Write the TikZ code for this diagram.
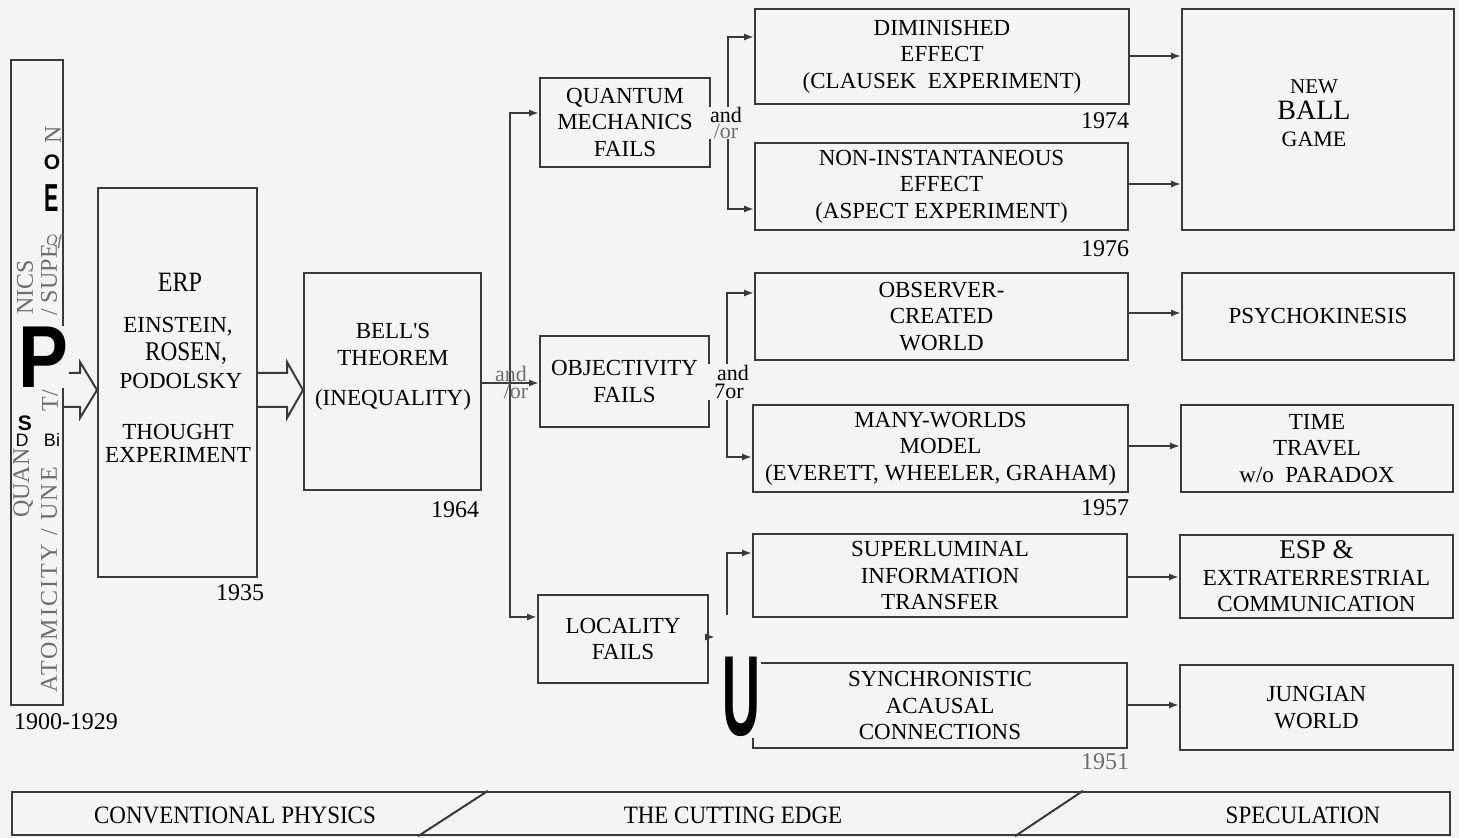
\documentclass[tikz,border=0pt]{standalone}
\usepackage{fontspec}
\setmainfont{Liberation Serif}[Ligatures=TeXOff]
\newfontfamily\ocrsans{Liberation Sans}
\newfontfamily\condserif[FakeStretch=0.86]{Liberation Serif}
\newfontfamily\barserif[FakeStretch=0.92]{Liberation Serif}
\newfontfamily\spacedserif[LetterSpace=9]{Liberation Serif}
\usetikzlibrary{arrows.meta,calc}
\definecolor{bgc}{HTML}{F4F4F4}
\definecolor{linec}{HTML}{3A3A3A}
\definecolor{graytext}{HTML}{6E6E6E}
\newcommand\bxfont{\fontsize{11.5}{13.3}\selectfont}
\begin{document}
\begin{tikzpicture}[x=0.5pt,y=-0.5pt,
  box/.style={draw=linec, line width=1pt, inner sep=0pt, align=center, font=\bxfont},
  conn/.style={draw=linec, line width=1pt},
  arr/.style={draw=linec, line width=1pt, -{Latex[length=5pt,width=3.6pt]}},
  hollow/.style={draw=linec, line width=1pt, line join=miter},
  txt/.style={inner sep=0pt, align=center, font=\bxfont},
  yr/.style={inner sep=0pt, font=\fontsize{12}{14}\selectfont},
  andor/.style={inner sep=0.5pt, align=center},
  rot/.style={rotate=90, inner sep=0pt, text=graytext, font=\fontsize{12}{14}\selectfont},
  ocr/.style={inner sep=0pt, text=black}
]
\fill[bgc] (0,0) rectangle (1459,838);
\useasboundingbox (0,0) rectangle (1459,838);

% ---------- boxes ----------
\node[box, minimum width=26pt, minimum height=322.5pt] (bar) at (37,382.5) {};
\node[box, minimum width=79.5pt, minimum height=194.5pt] (erp) at (177.5,382.5) {};
\node[box, minimum width=88.5pt, minimum height=108.5pt] (bell) at (392.5,381.5) {};
\node[box, minimum width=85pt, minimum height=44.5pt] (qm) at (625,122.5) {QUANTUM\\MECHANICS\\FAILS};
\node[box, minimum width=84.5pt, minimum height=45.5pt] (obj) at (624.5,381.5) {OBJECTIVITY\\FAILS};
\node[box, minimum width=85pt, minimum height=44pt] (loc) at (623,639) {LOCALITY\\FAILS};
\node[box, minimum width=187pt, minimum height=47.5pt] (dim) at (942,56.5) {DIMINISHED\\EFFECT\\(CLAUSEK\ \ EXPERIMENT)};
\node[box, minimum width=186.5pt, minimum height=43.5pt] (non) at (941.5,186.5) {NON-INSTANTANEOUS\\EFFECT\\(ASPECT EXPERIMENT)};
\node[box, minimum width=186.5pt, minimum height=43.5pt] (obs) at (941.5,316.5) {OBSERVER-\\CREATED\\WORLD};
\node[box, minimum width=187.5pt, minimum height=43.5pt] (many) at (940.5,448.5) {MANY-WORLDS\\MODEL\\(EVERETT, WHEELER, GRAHAM)};
\node[box, minimum width=187pt, minimum height=41.5pt] (sup) at (940,575.5) {SUPERLUMINAL\\INFORMATION\\TRANSFER};
\node[box, minimum width=187pt, minimum height=42.5pt] (syn) at (940,705.5) {SYNCHRONISTIC\\ACAUSAL\\CONNECTIONS};
\node[box, minimum width=136pt, minimum height=110.5pt] (nbg) at (1318,119.5) {};
\node[txt] (nbgt) at (1314,113) {{\fontsize{10.5}{13}\selectfont NEW}\\{\fontsize{14}{14}\selectfont BALL}\\{\fontsize{11}{13}\selectfont GAME}};
\node[box, minimum width=136pt, minimum height=43.5pt] (psy) at (1318,316.5) {PSYCHOKINESIS};
\node[box, minimum width=136pt, minimum height=43.5pt] (time) at (1317,448.5) {TIME\\TRAVEL\\w/o\ \ PARADOX};
\node[box, minimum width=136.5pt, minimum height=41.5pt] (esp) at (1316.5,576.5) {{\fontsize{13.5}{13}\selectfont ESP \&}\\EXTRATERRESTRIAL\\COMMUNICATION};
\node[box, minimum width=136.5pt, minimum height=42.5pt] (jung) at (1316.5,707.5) {JUNGIAN\\WORLD};

% ---------- ERP and Bell texts ----------
\node[txt, font=\fontsize{14}{14}\condserif] (erp1) at (180,282) {ERP};
\node[txt] (erp2) at (178,327) {EINSTEIN,};
\node[txt, font=\fontsize{13.5}{14}\condserif] (erp3) at (186,354) {ROSEN,};
\node[txt] (erp4) at (181,381) {PODOLSKY};
\node[txt] (erp5) at (178,432) {THOUGHT};
\node[txt] (erp6) at (178,455) {EXPERIMENT};
\node[txt] (bellt) at (393,367) {BELL'S\\THEOREM\\[6.7pt](INEQUALITY)};

% ---------- years ----------
\node[yr] (y1935) at (240,593) {1935};
\node[yr] (y1964) at (455,510) {1964};
\node[yr] (y1974) at (1105,121) {1974};
\node[yr] (y1976) at (1105,249) {1976};
\node[yr] (y1957) at (1105,508) {1957};
\node[yr, text=graytext] (y1951) at (1105,762) {1951};
\node[yr] (y1900) at (66,722) {1900-1929};

% ---------- hollow arrows ----------
\draw[hollow] (bar.east |- 0,373) -- (80,373) -- (80,362) -- (erp.west |- 0,390) -- (80,418) -- (80,407) -- (bar.east |- 0,407);
\draw[hollow] (erp.east |- 0,373) -- (287,373) -- (287,362) -- (bell.west |- 0,390) -- (287,418) -- (287,407) -- (erp.east |- 0,407);

% ---------- first split ----------
\coordinate (s1) at (510,383);
\draw[arr] (bell.east |- s1) -- (obj.west |- s1);
\draw[arr] (s1) |- (qm.west |- 0,113);
\draw[arr] (s1) |- (loc.west |- 0,617);
\node[andor, text=graytext, font=\fontsize{11}{8.5}\selectfont] (ao1) at (511,382) {and\\\hspace*{5pt}/or};

% ---------- QM split ----------
\coordinate (s2) at (728,120);
\draw[conn] (qm.east |- s2) -- (s2);
\draw[arr] (s2) |- (dim.west |- 0,37);
\draw[arr] (s2) |- (non.west |- 0,209);
\node[andor, fill=bgc, font=\fontsize{11}{7.6}\selectfont] (ao2) at (726,123) {and\\{\color{graytext}/or}};

% ---------- OBJ split ----------
\coordinate (s3) at (727,383);
\draw[conn] (obj.east |- s3) -- (s3);
\draw[arr] (s3) |- (obs.west |- 0,293);
\draw[arr] (s3) |- (many.west |- 0,457);
\node[andor, fill=bgc, font=\fontsize{11}{9.2}\selectfont] (ao3) at (729,382) {\hspace*{4pt}and\\7or};

% ---------- LOC split ----------
\coordinate (s4) at (727,615);
\coordinate (stub) at (715,637);
\draw[arr] (loc.east |- stub) -- (stub);
\draw[arr] (s4) |- (sup.west |- 0,553);

% ---------- to speculation ----------
\draw[arr] (dim.east |- 0,56) -- (nbg.west |- 0,56);
\draw[arr] (non.east |- 0,184) -- (nbg.west |- 0,184);
\draw[arr] (obs.east |- 0,313) -- (psy.west |- 0,313);
\draw[arr] (many.east |- 0,446) -- (time.west |- 0,446);
\draw[arr] (sup.east |- 0,577) -- (esp.west |- 0,577);
\draw[arr] (syn.east |- 0,705) -- (jung.west |- 0,705);

% ---------- left bar texts (as printed) ----------
\node[rot] (qan) at (23,483) {QUAN};
\node[rot] (nics) at (25,287) {NICS};
\node[rot, font=\fontsize{12}{14}\spacedserif] (atom) at (49,580) {ATOMICITY / UNE};
\node[rot] (tsl) at (50,401) {T/};
\node[rot] (supe) at (49,280) {/ SUPE};
\node[rot] (nn) at (53,135) {N};
\node[inner sep=0pt, text=graytext, font=\fontsize{8}{9}\itshape] (of) at (54,242) {Of};
\node[ocr, font=\fontsize{10.5}{11}\ocrsans\bfseries] (ocrO) at (52,162) {O};
\node[ocr, font=\ocrsans\bfseries] (ocrE) at (52,198) {\scalebox{0.55}[1]{\fontsize{19.5}{20}\selectfont E}};
\node[ocr, fill=bgc, inner sep=0.5pt, font=\ocrsans\bfseries] (ocrP) at (43,357) {\scalebox{0.85}[1]{\fontsize{44}{44}\selectfont P}};
\node[ocr, font=\fontsize{10.5}{11}\ocrsans\bfseries] (ocrS) at (25,423) {S};
\node[ocr, font=\fontsize{9}{10}\ocrsans] (ocrD) at (22,440) {D};
\node[ocr, font=\fontsize{9}{10}\ocrsans] (ocrB) at (52,440) {Bi};
\node[ocr, fill=bgc, inner sep=0.5pt, font=\ocrsans\bfseries] (ocrU) at (741,697) {\scalebox{0.46}[1]{\fontsize{57}{57}\selectfont U}};

% ---------- bottom band ----------
\node[draw=linec, line width=1.2pt, minimum width=719pt, minimum height=21.5pt, inner sep=0pt] (band) at (731,813.5) {};
\draw[conn] (488,0 |- band.north) -- (418,0 |- band.south);
\draw[conn] (1083,0 |- band.north) -- (1015,0 |- band.south);
\node[inner sep=0pt, font=\fontsize{12.5}{13}\barserif] (bt1) at (235,815) {CONVENTIONAL PHYSICS};
\node[inner sep=0pt, font=\fontsize{12.5}{13}\barserif] (bt2) at (733,815) {THE CUTTING EDGE};
\node[inner sep=0pt, font=\fontsize{12.5}{13}\barserif] (bt3) at (1303,815) {SPECULATION};
\end{tikzpicture}
\end{document}
